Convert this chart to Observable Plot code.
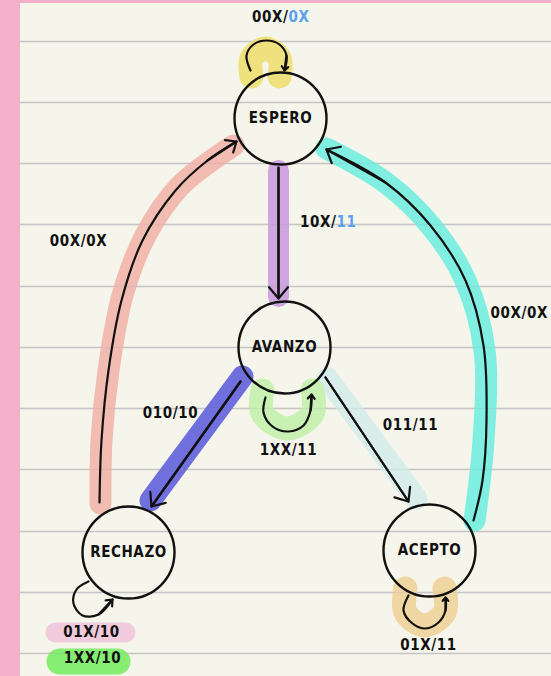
<!DOCTYPE html>
<html><head><meta charset="utf-8">
<script src="https://cdn.jsdelivr.net/npm/d3@7"></script>
<script src="https://cdn.jsdelivr.net/npm/@observablehq/plot@0.6"></script>
<style>
html,body{margin:0;padding:0;background:#f2b1c9;width:551px;height:676px;overflow:hidden}
#page{position:absolute;left:20px;top:3px;width:531px;height:673px;background:#f5f5eb;overflow:hidden}
#page svg text{letter-spacing:0.6px;font-stretch:condensed}
</style></head><body><div id="page"></div>
<script>
// ---- data ----
const ruleYs = [41,102,163,224,286,347,408,469,531,592,653];

const nodeNames = ["ESPERO","AVANZO","RECHAZO","ACEPTO"];
const nodeX = [280,284,128,429];
const nodeY = [118,347,552,550];

const edgeNames = ["ESPERO-loop","ESPERO-AVANZO","AVANZO-RECHAZO","AVANZO-ACEPTO","RECHAZO-ESPERO","ACEPTO-ESPERO","AVANZO-loop","RECHAZO-loop","ACEPTO-loop"];
const edgePathX = [
  [250,246,253,266,279,286,284],
  [278,278],
  [240,151],
  [325,408],
  [99,101,108,121,142,175,207,236],
  [473,482,486,483,465,430,385,326],
  [265,263,272,288,303,310,311],
  [88,76,73,82,98,112],
  [408,403,412,425,438,445,445]
];
const edgePathY = [
  [70,55,44,40,44,55,70],
  [167,298],
  [381,506],
  [377,501],
  [502,440,370,300,240,190,160,141],
  [520,480,420,345,280,225,182,149],
  [397,412,426,431,425,410,394],
  [581,589,603,615,614,599],
  [595,610,623,628,622,610,597]
];

const highlightNames = ["ESPERO-loop","ESPERO-AVANZO","AVANZO-RECHAZO","AVANZO-ACEPTO","RECHAZO-ESPERO","ACEPTO-ESPERO","AVANZO-loop","ACEPTO-loop","label-01X/10","label-1XX/10"];
const highlightPathX = [
  [251,251,265,279,279],
  [278,278],
  [242,150],
  [327,416],
  [100,101,108,122,145,180,233],
  [474,483,484,465,430,385,326],
  [262,262,287,312,312],
  [405,405,424,444,444],
  [55,125],
  [59,117]
];
const highlightPathY = [
  [76,58,48,58,76],
  [170,296],
  [376,500],
  [378,498],
  [503,440,370,295,235,185,145],
  [520,440,350,280,225,182,148],
  [390,413,428,413,390],
  [588,612,625,612,588],
  [632,632],
  [661,661]
];

const labelBlack = ["00X/","10X/","00X/0X","00X/0X","010/10","011/11","1XX/11","01X/10","1XX/10","01X/11"];
const labelBlue  = ["0X","11","","","","","","","",""];
const labelX = [288,336,78,490,170,410,288,91,92,428];
const labelY = [17,222,241,313,413,425,450,632,658,645];

// ---- styles ----
const highlightColors = ["#efe27e","#cfa6e0","#6f6fdd","#d9eeea","#f2bcb3","#80efe2","#c9f1b4","#f0d6a3","#f1cadb","#86ee72"];
const highlightWidths = [24,21,22,22,22,22,24,24,20,26];
const labelAnchors = ["end","end","middle","start","middle","middle","middle","middle","middle","middle"];
const ink = "#111";
const font = "'DejaVu Sans Condensed','DejaVu Sans',sans-serif";

// ---- build tables ----
const nodes = nodeNames.map((name,i)=>({name, x:nodeX[i], y:nodeY[i]}));
const toPts = (xs, ys, id) => xs.map((x,i)=>({id, x, y:ys[i]}));
const edgePts = edgeNames.flatMap((n,i)=>toPts(edgePathX[i], edgePathY[i], n));
const arrowHeads = edgeNames.map((n,i)=>{
  const xs = edgePathX[i], ys = edgePathY[i], k = xs.length;
  return {id:n, x1:xs[k-2], y1:ys[k-2], x2:xs[k-1], y2:ys[k-1]};
});
const labels = labelBlack.map((t,i)=>({black:t, blue:labelBlue[i], x:labelX[i], y:labelY[i], anchor:labelAnchors[i]}));

const highlightMarks = highlightNames.map((n,i)=>Plot.line(toPts(highlightPathX[i], highlightPathY[i], n), {
  x:"x", y:"y", stroke: highlightColors[i], strokeWidth: highlightWidths[i],
  strokeLinecap:"round", strokeLinejoin:"round", curve:"catmull-rom"
}));

const chart = Plot.plot({
  width: 531, height: 673, margin: 0,
  x: {domain:[20,551], axis:null},
  y: {domain:[3,676], reverse:true, axis:null},
  style: {background:"transparent", overflow:"hidden"},
  marks: [
    Plot.ruleY(ruleYs, {stroke:"#cfcfcf", strokeWidth:1.6}),
    ...highlightMarks,
    Plot.ruleY(ruleYs, {stroke:"#888", strokeOpacity:0.12, strokeWidth:1.6}),
    Plot.line(edgePts, {x:"x", y:"y", z:"id", stroke:ink, strokeWidth:2.2, curve:"catmull-rom", strokeLinecap:"round"}),
    Plot.arrow(arrowHeads, {x1:"x1", y1:"y1", x2:"x2", y2:"y2", stroke:ink, strokeWidth:2.2, headLength:10, headAngle:80}),
    Plot.dot(nodes, {x:"x", y:"y", r:46, stroke:ink, strokeWidth:2.4, fill:"none"}),
    Plot.text(nodes, {x:"x", y:"y", text:"name", fontSize:15, fontWeight:"bold", fontFamily:font, fill:ink}),
    ...["start","middle","end"].map(a => Plot.text(labels.filter(d=>d.anchor===a), {x:"x", y:"y", text:"black", textAnchor:a, fontSize:15, fontWeight:"bold", fontFamily:font, fill:ink})),
    Plot.text(labels.filter(d=>d.blue), {x:"x", y:"y", text:"blue", textAnchor:"start", fontSize:15, fontWeight:"bold", fontFamily:font, fill:"#5aa2f0"})
  ]
});
document.getElementById("page").appendChild(chart);
</script></body></html>
